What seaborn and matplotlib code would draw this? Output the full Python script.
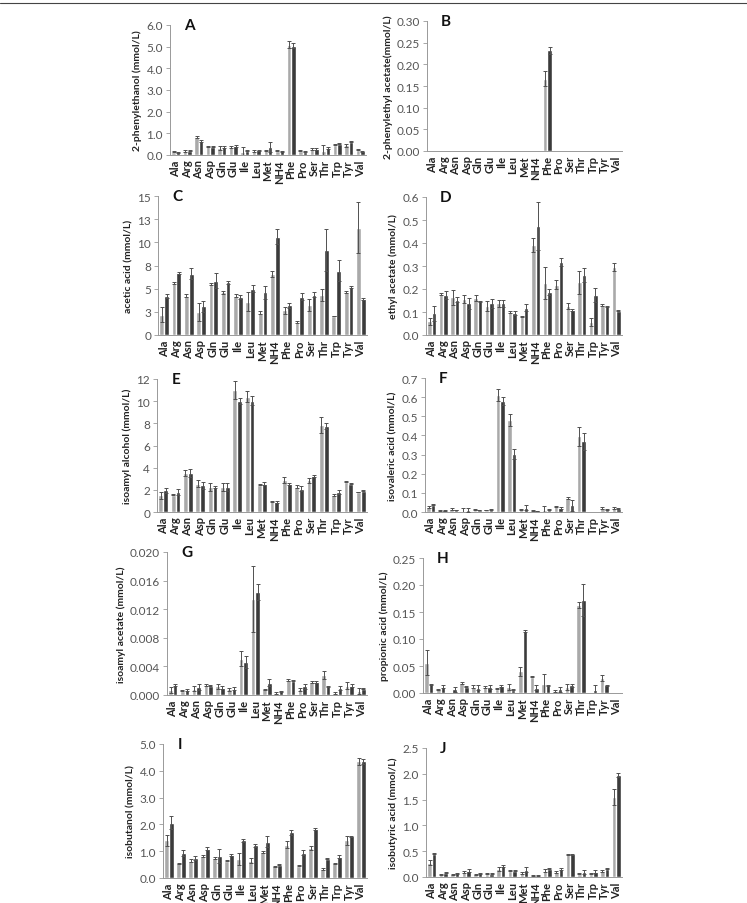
import numpy as np
import pandas as pd
import seaborn as sns
import matplotlib
matplotlib.use('Agg')
import matplotlib.pyplot as plt
from matplotlib.lines import Line2D

# categories (nitrogen source)
amino = ['Ala', 'Arg', 'Asn', 'Asp', 'Gln', 'Glu', 'Ile', 'Leu', 'Met', 'NH4',
         'Phe', 'Pro', 'Ser', 'Thr', 'Trp', 'Tyr', 'Val']

# A: 2-phenylethanol
phe_l = [0.15, 0.18, 0.85, 0.40, 0.32, 0.38, 0.12, 0.18, 0.22, 0.20, 5.10, 0.20, 0.28, 0.18, 0.48, 0.45, 0.25]
phe_le = [0.02, 0.03, 0.05, 0.03, 0.08, 0.04, 0.25, 0.03, 0.03, 0.02, 0.18, 0.02, 0.03, 0.28, 0.03, 0.06, 0.03]
phe_d = [0.12, 0.20, 0.65, 0.38, 0.38, 0.42, 0.20, 0.22, 0.38, 0.18, 5.05, 0.15, 0.28, 0.32, 0.52, 0.62, 0.18]
phe_de = [0.02, 0.03, 0.05, 0.03, 0.05, 0.04, 0.03, 0.03, 0.22, 0.02, 0.10, 0.02, 0.03, 0.05, 0.03, 0.04, 0.02]

# B: 2-phenylethyl acetate
pea_l = [0, 0, 0, 0, 0, 0, 0, 0, 0, 0, 0.167, 0, 0, 0, 0, 0, 0]
pea_le = [0, 0, 0, 0, 0, 0, 0, 0, 0, 0, 0.017, 0, 0, 0, 0, 0, 0]
pea_d = [0, 0, 0, 0, 0, 0, 0, 0, 0, 0, 0.232, 0, 0, 0, 0, 0, 0]
pea_de = [0, 0, 0, 0, 0, 0, 0, 0, 0, 0, 0.009, 0, 0, 0, 0, 0, 0]

# C: acetic acid
ace_l = [2.2, 5.6, 4.25, 2.5, 5.5, 4.6, 4.25, 3.6, 2.4, 6.6, 2.65, 1.4, 3.2, 4.3, 2.05, 4.65, 11.6]
ace_le = [0.8, 0.1, 0.2, 1.0, 0.1, 0.2, 0.2, 1.0, 0.15, 0.35, 0.35, 0.15, 0.65, 0.65, 0.05, 0.15, 2.8]
ace_d = [4.2, 6.7, 6.6, 3.1, 5.85, 5.7, 4.1, 5.0, 4.6, 10.6, 3.2, 4.15, 4.35, 9.2, 6.95, 5.2, 3.9]
ace_de = [0.25, 0.1, 0.6, 0.6, 0.8, 0.15, 0.2, 0.35, 0.7, 0.8, 0.3, 0.4, 0.3, 2.25, 1.1, 0.1, 0.1]

# D: ethyl acetate
eta_l = [0.060, 0.178, 0.164, 0.157, 0.161, 0.126, 0.138, 0.099, 0.081, 0.390, 0.225, 0.219, 0.125, 0.229, 0.058, 0.130, 0.297]
eta_le = [0.015, 0.003, 0.033, 0.016, 0.012, 0.020, 0.016, 0.004, 0.002, 0.030, 0.070, 0.020, 0.012, 0.050, 0.018, 0.005, 0.018]
eta_d = [0.094, 0.174, 0.154, 0.138, 0.146, 0.138, 0.138, 0.096, 0.119, 0.475, 0.187, 0.319, 0.109, 0.261, 0.175, 0.125, 0.106]
eta_de = [0.033, 0.016, 0.010, 0.025, 0.003, 0.020, 0.016, 0.008, 0.015, 0.105, 0.012, 0.017, 0.005, 0.032, 0.030, 0.003, 0.002]

# E: isoamyl alcohol
iaa_l = [1.5, 1.55, 3.5, 2.55, 2.25, 2.25, 11.0, 10.4, 2.45, 0.95, 2.9, 2.3, 2.85, 7.85, 1.5, 2.75, 1.8]
iaa_le = [0.3, 0.05, 0.25, 0.3, 0.35, 0.35, 0.8, 0.5, 0.05, 0.05, 0.3, 0.1, 0.2, 0.7, 0.1, 0.05, 0.02]
iaa_d = [1.95, 1.8, 3.5, 2.4, 2.25, 2.25, 10.0, 10.05, 2.55, 0.9, 2.55, 2.1, 3.25, 7.75, 1.8, 2.55, 1.9]
iaa_de = [0.2, 0.3, 0.35, 0.3, 0.1, 0.35, 0.3, 0.4, 0.15, 0.05, 0.1, 0.25, 0.1, 0.3, 0.2, 0.05, 0.05]

# F: isovaleric acid
iva_l = [0.028, 0.008, 0.015, 0.003, 0.012, 0.010, 0.610, 0.480, 0.015, 0.006, 0.012, 0.030, 0.072, 0.395, 0, 0.020, 0.022]
iva_le = [0.005, 0.004, 0.005, 0.018, 0.003, 0.002, 0.030, 0.030, 0.003, 0.002, 0.020, 0.003, 0.005, 0.050, 0, 0.005, 0.004]
iva_d = [0.038, 0.010, 0.010, 0.010, 0.010, 0.012, 0.580, 0.304, 0.022, 0.004, 0.012, 0.022, 0.035, 0.370, 0, 0.012, 0.018]
iva_de = [0.003, 0.003, 0.002, 0.012, 0.002, 0.002, 0.020, 0.025, 0.012, 0.001, 0.002, 0.004, 0.028, 0.045, 0, 0.002, 0.002]

# G: isoamyl acetate
iac_l = [0.0007, 0.0006, 0.0009, 0.0014, 0.0012, 0.0008, 0.0051, 0.0134, 0.0008, 0.0003, 0.0021, 0.0008, 0.0018, 0.0028, 0.0003, 0.0013, 0.0006]
iac_le = [0.0004, 0.0001, 0.0003, 0.0002, 0.0003, 0.0002, 0.0010, 0.0046, 0.0001, 0.0001, 0.0001, 0.0002, 0.0001, 0.0005, 0.0001, 0.0005, 0.0004]
iac_d = [0.0014, 0.0007, 0.0011, 0.0013, 0.0010, 0.0009, 0.0046, 0.0144, 0.0017, 0.0005, 0.0020, 0.0012, 0.0018, 0.0012, 0.0010, 0.0013, 0.0009]
iac_de = [0.0001, 0.0002, 0.0004, 0.0001, 0.0002, 0.0002, 0.0008, 0.0011, 0.0005, 0.0001, 0.0001, 0.0003, 0.0001, 0.0001, 0.0003, 0.0002, 0.0001]

# H: propionic acid
pro_l = [0.056, 0.007, 0, 0.019, 0.012, 0.011, 0.008, 0.011, 0.040, 0.030, 0.017, 0.004, 0.011, 0.163, 0, 0.028, 0]
pro_le = [0.023, 0.001, 0, 0.002, 0.002, 0.002, 0.001, 0.005, 0.009, 0.001, 0.018, 0.002, 0.006, 0.006, 0, 0.006, 0]
pro_d = [0.016, 0.012, 0.007, 0.012, 0.010, 0.011, 0.013, 0.006, 0.115, 0.010, 0.014, 0.007, 0.014, 0.172, 0.006, 0.014, 0]
pro_de = [0.001, 0.002, 0.005, 0.001, 0.004, 0.003, 0.002, 0.001, 0.002, 0.005, 0.001, 0.005, 0.002, 0.030, 0.008, 0.001, 0]

# I: isobutanol
ibu_l = [1.40, 0.55, 0.65, 0.82, 0.75, 0.65, 0.70, 0.65, 0.97, 0.43, 1.25, 0.45, 1.12, 0.35, 0.55, 1.40, 4.35]
ibu_le = [0.22, 0.02, 0.07, 0.05, 0.05, 0.02, 0.22, 0.08, 0.03, 0.02, 0.12, 0.02, 0.07, 0.04, 0.02, 0.15, 0.12]
ibu_d = [2.07, 0.93, 0.75, 1.10, 0.82, 0.85, 1.40, 1.22, 1.35, 0.50, 1.70, 0.95, 1.82, 0.72, 0.80, 1.55, 4.35]
ibu_de = [0.25, 0.10, 0.07, 0.04, 0.25, 0.03, 0.06, 0.06, 0.20, 0.03, 0.08, 0.08, 0.03, 0.02, 0.04, 0.02, 0.08]

# J: isobutyric acid
iba_l = [0.28, 0.05, 0.05, 0.09, 0.05, 0.06, 0.15, 0.12, 0.08, 0.03, 0.12, 0.10, 0.44, 0.06, 0.06, 0.12, 1.55]
iba_le = [0.05, 0.01, 0.01, 0.02, 0.01, 0.01, 0.04, 0.01, 0.02, 0.01, 0.03, 0.02, 0.01, 0.01, 0.01, 0.02, 0.15]
iba_d = [0.45, 0.08, 0.07, 0.12, 0.07, 0.06, 0.22, 0.12, 0.14, 0.03, 0.16, 0.15, 0.44, 0.10, 0.10, 0.16, 1.98]
iba_de = [0.01, 0.01, 0.01, 0.03, 0.01, 0.01, 0.02, 0.01, 0.05, 0.01, 0.01, 0.02, 0.01, 0.04, 0.03, 0.01, 0.04]

panels = [
    ('A', '2-phenylethanol (mmol/L)', phe_l, phe_le, phe_d, phe_de, np.arange(0, 6.01, 1.0), '%.1f'),
    ('B', '2-phenylethyl acetate(mmol/L)', pea_l, pea_le, pea_d, pea_de, np.arange(0, 0.301, 0.05), '%.2f'),
    ('C', 'acetic acid (mmol/L)', ace_l, ace_le, ace_d, ace_de, np.arange(0, 15.01, 2.5), None),
    ('D', 'ethyl acetate (mmol/L)', eta_l, eta_le, eta_d, eta_de, np.arange(0, 0.601, 0.1), '%.1f'),
    ('E', 'isoamyl alcohol (mmol/L)', iaa_l, iaa_le, iaa_d, iaa_de, np.arange(0, 12.01, 2), '%.0f'),
    ('F', 'isovaleric acid (mmol/L)', iva_l, iva_le, iva_d, iva_de, np.arange(0, 0.701, 0.1), '%.1f'),
    ('G', 'isoamyl acetate (mmol/L)', iac_l, iac_le, iac_d, iac_de, np.arange(0, 0.0201, 0.004), '%.3f'),
    ('H', 'propionic acid (mmol/L)', pro_l, pro_le, pro_d, pro_de, np.arange(0, 0.251, 0.05), '%.2f'),
    ('I', 'isobutanol (mmol/L)', ibu_l, ibu_le, ibu_d, ibu_de, np.arange(0, 5.01, 1.0), '%.1f'),
    ('J', 'isobutyric acid (mmol/L)', iba_l, iba_le, iba_d, iba_de, np.arange(0, 2.51, 0.5), '%.1f'),
]
acetic_ticklabels = ['0', '3', '5', '8', '10', '13', '15']

# pixel boxes (left, right, top, bottom) of each plot area
boxes = {
    'A': (170, 366, 26, 156), 'B': (427, 622, 22, 152),
    'C': (158, 367, 197, 336), 'D': (426, 622, 198, 336),
    'E': (157, 367, 380, 513), 'F': (425, 622, 379, 513),
    'G': (167, 367, 553, 696), 'H': (423, 622, 559, 694),
    'I': (163, 367, 745, 879), 'J': (426, 622, 749, 878),
}

sns.set_theme(style='white')
plt.rcParams['font.family'] = ['Lato', 'DejaVu Sans']

W, H = 747, 904
fig = plt.figure(figsize=(W / 100, H / 100), dpi=100)
fig.add_artist(Line2D([0, 1], [1 - 4 / H, 1 - 4 / H], color='#444444', lw=0.8))

light, dark = '#a9a9a9', '#3b3b3b'

for letter, ylabel, vl, el, vd, ed, yticks, fmt in panels:
    l, r, t, b = boxes[letter]
    ax = fig.add_axes([l / W, 1 - b / H, (r - l) / W, (b - t) / H])
    df = pd.DataFrame({
        'amino': amino * 2,
        'value': list(vl) + list(vd),
        'err': list(el) + list(ed),
        'set': ['light'] * len(amino) + ['dark'] * len(amino),
    })
    sns.barplot(data=df, x='amino', y='value', hue='set', order=amino,
                hue_order=['light', 'dark'], palette=[light, dark],
                errorbar=None, width=0.78, saturation=1, legend=False, ax=ax)
    for cont, vals, errs in zip(ax.containers, [vl, vd], [el, ed]):
        xs = np.array([p.get_x() + p.get_width() / 2 for p in cont.patches])
        vals = np.asarray(vals, float)
        errs = np.asarray(errs, float)
        m = errs > 0
        ax.errorbar(xs[m], vals[m], yerr=errs[m], fmt='none', ecolor='#505050',
                    elinewidth=0.7, capsize=1.6, capthick=0.7, zorder=3)
    ax.set_xlim(-0.5, len(amino) - 0.5)
    ax.set_ylim(yticks[0], yticks[-1])
    ax.set_yticks(yticks)
    if fmt is None:
        ax.set_yticklabels(acetic_ticklabels)
    else:
        ax.set_yticklabels([fmt % v for v in yticks])
    ax.set_xticks(range(len(amino)))
    ax.set_xticklabels(amino, rotation=90, fontsize=8, fontweight='bold', color='#222222')
    ax.set_xticks(np.arange(len(amino) + 1) - 0.5, minor=True)
    ax.tick_params(axis='x', which='major', length=0, pad=3)
    ax.tick_params(axis='x', which='minor', length=3, color='#999999', width=0.6)
    ax.tick_params(axis='y', length=3, color='#999999', width=0.6, labelsize=8.5,
                   labelcolor='#555555', left=True, pad=2)
    ax.set_xlabel('')
    ax.set_ylabel(ylabel, fontsize=7.5, fontweight='bold', color='#222222', labelpad=3)
    for s in ['top', 'right']:
        ax.spines[s].set_visible(False)
    for s in ['left', 'bottom']:
        ax.spines[s].set_color('#999999')
        ax.spines[s].set_linewidth(0.7)
    ax.text(0.07, 1.0, letter, transform=ax.transAxes, fontsize=11, fontweight='bold',
            va='center', ha='left', color='#111111')

fig.savefig('out.png', dpi=100)
